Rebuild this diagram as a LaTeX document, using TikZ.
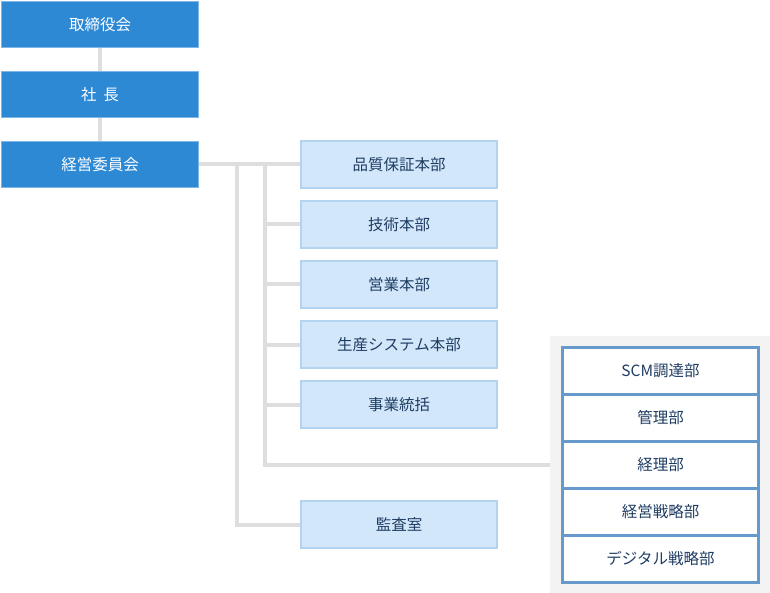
\documentclass[tikz,border=0pt]{standalone}
\usepackage{fontspec}
\setmainfont{Noto Sans CJK JP}
\definecolor{topblue}{HTML}{2E89D5}
\definecolor{topedge}{HTML}{7FB6E6}
\definecolor{subfill}{HTML}{D3E7FA}
\definecolor{subedge}{HTML}{B3D4F0}
\definecolor{subtext}{HTML}{1F3D63}
\definecolor{deptedge}{HTML}{6699CC}
\definecolor{panelgray}{HTML}{F3F3F3}
\definecolor{linegray}{HTML}{DEDEDE}
\tikzset{
	topbox/.style={draw=topedge, line width=1.5pt, fill=topblue, text=white, minimum width=197pt, minimum height=46pt, inner sep=0pt, font=\fontsize{15.5}{18}\selectfont},
	subbox/.style={draw=subedge, line width=1.5pt, fill=subfill, text=subtext, minimum width=196pt, minimum height=47pt, inner sep=0pt, font=\fontsize{15.5}{18}\selectfont},
	deptbox/.style={draw=deptedge, line width=3pt, fill=white, text=subtext, minimum width=196pt, minimum height=47pt, inner sep=0pt, font=\fontsize{15.5}{18}\selectfont},
	conn/.style={draw=linegray, line width=4pt}
}
\begin{document}
\begin{tikzpicture}[x=1pt, y=-1pt]
	\useasboundingbox (0,0) rectangle (770,593);
	
	% left column
	\node[topbox] (board) at (100,24.5) {取締役会};
	\node[topbox] (ceo) at (100,94.5) {社\ \ 長};
	\node[topbox] (exec) at (100,164.5) {経営委員会};
	
	% divisions
	\node[subbox] (qa) at (399,164.5) {品質保証本部};
	\node[subbox] (tech) at (399,224.5) {技術本部};
	\node[subbox] (sales) at (399,284.5) {営業本部};
	\node[subbox] (prod) at (399,344.5) {生産システム本部};
	\node[subbox] (biz) at (399,404.5) {事業統括};
	\node[subbox] (audit) at (399,524.5) {監査室};
	
	% departments panel
	\node[fill=panelgray, minimum width=220pt, minimum height=257pt, inner sep=0pt] (panel) at (660,464.5) {};
	\node[deptbox] (scm) at (660.5,370.5) {SCM調達部};
	\node[deptbox] (mgmt) at (660.5,417.5) {管理部};
	\node[deptbox] (acct) at (660.5,464.5) {経理部};
	\node[deptbox] (strat) at (660.5,511.5) {経営戦略部};
	\node[deptbox] (digi) at (660.5,558.5) {デジタル戦略部};
	
	\coordinate (j1) at (237,164.5);
	\coordinate (j2) at (265,164.5);
	
	\draw[conn] (board) -- (ceo);
	\draw[conn] (ceo) -- (exec);
	\draw[conn] (exec) -- (qa);
	\draw[conn] (j2) |- (tech.west);
	\draw[conn] (j2) |- (sales.west);
	\draw[conn] (j2) |- (prod.west);
	\draw[conn] (j2) |- (biz.west);
	\draw[conn] (j2) |- (panel.west);
	\draw[conn] (j1) |- (audit.west);
\end{tikzpicture}
\end{document}
